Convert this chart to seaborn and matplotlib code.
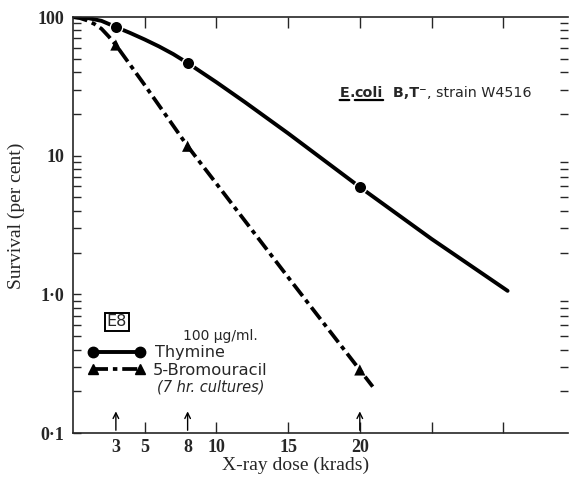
import numpy as np
import pandas as pd
import matplotlib.pyplot as plt
import seaborn as sns

# survival curves (dose in krads, survival in per cent)
thy_dose = [0, 1, 2, 3, 4, 5, 6, 7, 8, 10, 12, 15, 20, 25, 30.3]
thy_surv = [100, 98.6, 93.8, 84.7, 76.7, 68.9, 61.4, 54.0, 46.6, 33.9, 24.3, 14.5, 5.94, 2.51, 1.06]
bu_dose = [0, 0.5, 1, 1.5, 2, 2.5, 3, 5, 8, 10, 15, 20, 20.9]
bu_surv = [100, 98.2, 94.4, 89.1, 82.2, 72.4, 62.8, 32.4, 11.7, 6.3, 1.33, 0.285, 0.216]

# measured points (markers)
thy_pts_dose = [3, 8, 20]
thy_pts_surv = [84.7, 46.6, 5.94]
bu_pts_dose = [3, 8, 20]
bu_pts_surv = [62.8, 11.7, 0.285]

arrow_doses = [3, 8, 20]
xtick_major = [5, 10, 15, 20, 25, 30]
xtick_major_labels = ['5', '10', '15', '20', '', '']
xtick_extra = [3, 8]
ytick_vals = [0.1, 1, 10, 100]
ytick_labels = ['0·1', '1·0', '10', '100']

thy = pd.DataFrame({'dose': thy_dose, 'surv': thy_surv})
bu = pd.DataFrame({'dose': bu_dose, 'surv': bu_surv})

sns.set_style("ticks")
serif = ['Liberation Serif', 'DejaVu Serif']
sans = ['DejaVu Sans']
dash_dot = [4, 1.3, 1.2, 1.3]

fig = plt.figure(figsize=(5.69, 4.86), dpi=100)
ax = fig.add_axes([0.128, 0.109, 0.87, 0.856])

sns.lineplot(x='dose', y='surv', data=thy, ax=ax, color='black', lw=2.8, sort=False)
sns.lineplot(x='dose', y='surv', data=bu, ax=ax, color='black', lw=2.7, sort=False)
ax.lines[-1].set_dashes(dash_dot)
sns.scatterplot(x=thy_pts_dose, y=thy_pts_surv, ax=ax, color='black', marker='o', s=80,
                edgecolor='white', linewidth=1.0, zorder=5)
sns.scatterplot(x=bu_pts_dose, y=bu_pts_surv, ax=ax, color='black', marker='^', s=65,
                edgecolor='none', zorder=5)

ax.set_yscale('log')
ax.set_xlim(0, 34.5)
ax.set_ylim(0.1, 100)

ax.set_xticks(xtick_major)
ax.set_xticklabels(xtick_major_labels)
ax.set_xticks(xtick_extra, minor=True)
ax.set_xticklabels([str(v) for v in xtick_extra], minor=True)
ax.tick_params(axis='x', which='major', direction='in', length=8, width=1, top=True, pad=4)
ax.tick_params(axis='x', which='minor', length=0, pad=4)
ax.set_yticks(ytick_vals)
ax.set_yticklabels(ytick_labels)
ax.tick_params(axis='y', which='major', direction='in', length=6, width=1, pad=6)
ax.tick_params(axis='y', which='minor', direction='in', length=6, width=1, right=True)
for lab in ax.get_xticklabels(which='both') + ax.get_yticklabels():
    lab.set_family(serif)
    lab.set_fontsize(13)
    lab.set_fontweight('bold')

ax.spines['right'].set_visible(False)
for s in ['left', 'bottom', 'top']:
    ax.spines[s].set_linewidth(1.2)

for d in arrow_doses:
    ax.annotate('', xy=(d, 0.15), xytext=(d, 0.1),
                arrowprops=dict(arrowstyle='->', color='black', lw=1.0))

ax.set_xlabel('X-ray dose (krads)', family=serif, fontsize=14)
ax.set_ylabel('Survival (per cent)', family=serif, fontsize=14)
ax.xaxis.set_label_coords(0.45, -0.058)
ax.yaxis.set_label_coords(-0.097, 0.522)

# strain label with underlined E. coli
fs = 10.3
t_e = ax.text(0.539, 0.807, 'E', transform=ax.transAxes, family=sans, fontsize=fs,
              weight='bold', va='baseline')
t_dot = ax.annotate('.', xy=(1, 0), xycoords=t_e, family=sans, fontsize=fs, weight='bold', va='bottom')
t_coli = ax.annotate('coli', xy=(1, 0), xycoords=t_dot, family=sans, fontsize=fs, weight='bold', va='bottom')
t_bt = ax.annotate('  B,T⁻', xy=(1, 0), xycoords=t_coli, family=sans, fontsize=fs, weight='bold', va='bottom')
ax.annotate(', strain W4516', xy=(1, 0), xycoords=t_bt, family=sans, fontsize=fs, va='bottom')
for t in [t_e, t_coli]:
    ax.annotate('', xy=(0, 0.02), xycoords=t, xytext=(1, 0.02), textcoords=t,
                arrowprops=dict(arrowstyle='-', lw=1.6, color='black', shrinkA=0, shrinkB=0))

# legend block
ax.text(0.089, 0.267, 'E8', transform=ax.transAxes, family=sans, fontsize=11.5,
        ha='center', va='center', bbox=dict(boxstyle='square,pad=0.12', fc='white', ec='black', lw=1.4))
ax.text(0.222, 0.234, '100 μg/ml.', transform=ax.transAxes, family=sans, fontsize=10, va='center')
ax.plot([0.040, 0.135], [0.195, 0.195], transform=ax.transAxes, color='black', lw=2.8,
        marker='o', ms=7.5, clip_on=False)
hb, = ax.plot([0.040, 0.135], [0.153, 0.153], transform=ax.transAxes, color='black', lw=2.7,
              marker='^', ms=7.5, clip_on=False)
hb.set_dashes(dash_dot)
ax.text(0.166, 0.193, 'Thymine', transform=ax.transAxes, family=sans, fontsize=11.5, va='center')
ax.text(0.162, 0.151, '5-Bromouracil', transform=ax.transAxes, family=sans, fontsize=11.8, va='center')
ax.text(0.170, 0.110, '(7 hr. cultures)', transform=ax.transAxes, family=sans, fontsize=10.5,
        va='center', style='italic')

fig.savefig('out.png', dpi=100)
